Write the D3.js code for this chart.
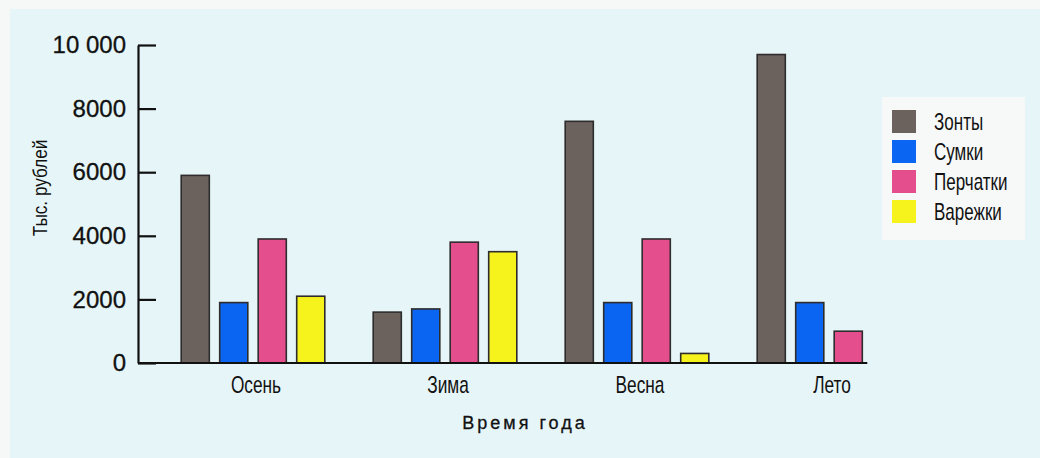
<!DOCTYPE html>
<html>
<head>
<meta charset="utf-8">
<script src="https://cdn.jsdelivr.net/npm/d3@7"></script>
<style>
  body { margin: 0; background: #f6f8f8; }
  svg { display: block; }
  text { font-family: "Liberation Sans", Arial, sans-serif; }
</style>
</head>
<body>
<div id="chart"></div>
<script>
// data
var seasons = ["Осень", "Зима", "Весна", "Лето"];
var products = ["Зонты", "Сумки", "Перчатки", "Варежки"];
var umbrellas = [5900, 1600, 7600, 9700];
var bags = [1900, 1700, 1900, 1900];
var gloves = [3900, 3800, 3900, 1000];
var mittens = [2100, 3500, 300, null];
var yTicks = [0, 2000, 4000, 6000, 8000, 10000];

var colors = ["#6b625e", "#0a66f2", "#e44e8c", "#f6f21c"];
var series = [umbrellas, bags, gloves, mittens];

var width = 1040;
var height = 458;

var svg = d3.select("#chart")
  .append("svg")
  .attr("width", width)
  .attr("height", height);

// page background (scanned paper tint)
svg.append("rect")
  .attr("x", 10)
  .attr("y", 9)
  .attr("width", width - 10)
  .attr("height", height - 9)
  .attr("fill", "#e6f5f7");

// scales
var x0 = d3.scaleBand().domain(seasons).range([137.5, 137.5 + 4 * 192]);
var x1 = d3.scaleBand().domain(products)
  .range([38.5, 192.5])
  .paddingInner(0.27)
  .paddingOuter(0.135);
var y = d3.scaleLinear().domain([0, 10000]).range([363, 45]);

// bars
var rows = [];
seasons.forEach(function (s, i) {
  products.forEach(function (p, j) {
    if (series[j][i] != null) {
      rows.push({ season: s, product: p, value: series[j][i], color: colors[j] });
    }
  });
});

svg.append("g")
  .selectAll("rect")
  .data(rows)
  .enter()
  .append("rect")
  .attr("x", function (d) { return x0(d.season) + x1(d.product); })
  .attr("y", function (d) { return y(d.value); })
  .attr("width", x1.bandwidth())
  .attr("height", function (d) { return y(0) - y(d.value); })
  .attr("fill", function (d) { return d.color; })
  .attr("stroke", "#2e2c2c")
  .attr("stroke-width", 1.6);

// y axis, ticks pointing inwards
var yAxis = svg.append("g")
  .attr("transform", "translate(138,0)")
  .call(d3.axisLeft(y)
    .tickValues(yTicks)
    .tickSizeInner(-18)
    .tickSizeOuter(0)
    .tickPadding(12)
    .tickFormat(function (d) { return d === 10000 ? "10 000" : d; }));

yAxis.select(".domain").attr("stroke", "#111").attr("stroke-width", 2.2);
yAxis.selectAll(".tick line").attr("stroke", "#111").attr("stroke-width", 2.2);
yAxis.selectAll(".tick text")
  .attr("font-family", "Liberation Sans, Arial, sans-serif")
  .attr("font-size", "24px")
  .attr("fill", "#111")
  .attr("stroke", "#111")
  .attr("stroke-width", 0.3);

// baseline
var lastEnd = x0("Лето") + x1("Перчатки") + x1.bandwidth() + 5;
svg.append("line")
  .attr("x1", 138)
  .attr("x2", lastEnd)
  .attr("y1", y(0))
  .attr("y2", y(0))
  .attr("stroke", "#111")
  .attr("stroke-width", 2.2);

// season labels (condensed face, so squeeze horizontally)
svg.append("g")
  .selectAll("text")
  .data(seasons)
  .enter()
  .append("text")
  .attr("transform", function (d) {
    var cx = x0(d) + x1("Зонты") + (x1("Варежки") + x1.bandwidth() - x1("Зонты")) / 2 + 3;
    return "translate(" + cx + ",393) scale(0.72,1)";
  })
  .attr("text-anchor", "middle")
  .attr("font-size", "24px")
  .attr("fill", "#111")
  .text(function (d) { return d; });

// axis titles
svg.append("text")
  .attr("x", 525)
  .attr("y", 429)
  .attr("text-anchor", "middle")
  .attr("font-size", "18px")
  .attr("letter-spacing", "3px")
  .attr("fill", "#111")
  .attr("stroke", "#111")
  .attr("stroke-width", 0.3)
  .text("Время года");

svg.append("text")
  .attr("transform", "translate(47,188) rotate(-90) scale(0.86,1)")
  .attr("text-anchor", "middle")
  .attr("font-size", "20px")
  .attr("fill", "#111")
  .text("Тыс. рублей");

// legend
var legend = svg.append("g");
legend.append("rect")
  .attr("x", 882)
  .attr("y", 97)
  .attr("width", 143)
  .attr("height", 143)
  .attr("fill", "#f7f9f9");

var items = legend.selectAll("g.item")
  .data(products)
  .enter()
  .append("g")
  .attr("class", "item")
  .attr("transform", function (d, i) { return "translate(892," + (110 + i * 30) + ")"; });

items.append("rect")
  .attr("width", 24)
  .attr("height", 23)
  .attr("fill", function (d, i) { return colors[i]; });

items.append("text")
  .attr("transform", "translate(42,20) scale(0.74,1)")
  .attr("font-size", "23px")
  .attr("fill", "#111")
  .text(function (d) { return d; });
</script>
</body>
</html>
